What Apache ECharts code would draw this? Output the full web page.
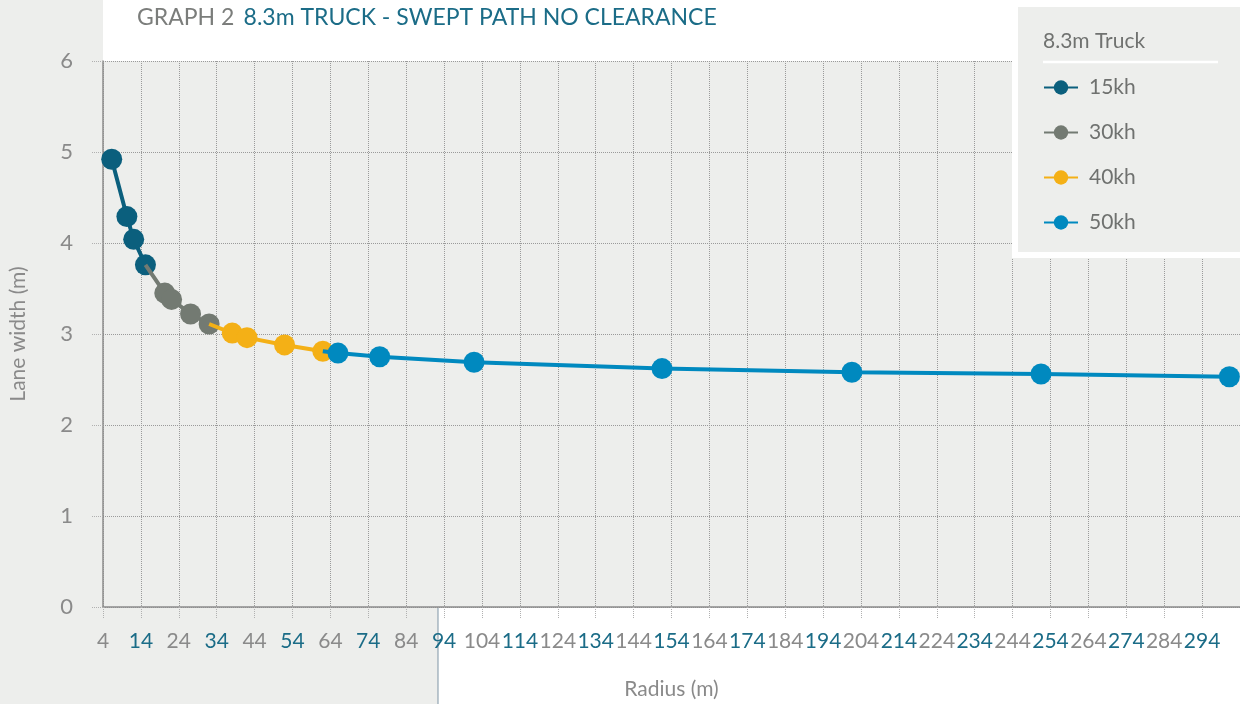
<!DOCTYPE html>
<html>
<head>
<meta charset="utf-8">
<script src="https://cdn.jsdelivr.net/npm/echarts@6/dist/echarts.min.js"></script>
<style>
  html, body { margin: 0; padding: 0; background: #edeeec; }
  #chart { width: 1240px; height: 704px; }
</style>
</head>
<body>
<div id="chart"></div>
<script>
// readings off graph 2 (radius in m, lane width in m)
var seriesNames = ['15kh', '30kh', '40kh', '50kh'];
var seriesColors = ['#0b5f7d', '#737a72', '#f4b016', '#0089bf'];

var kh15 = [[6.3, 4.92], [10.3, 4.29], [12.1, 4.04], [15.2, 3.76]];
var kh30 = [[20.3, 3.45], [22.1, 3.38], [27.1, 3.22], [32.0, 3.11]];
var kh40 = [[38.1, 3.01], [42.0, 2.96], [51.9, 2.88], [62.0, 2.81]];
var kh50 = [[66.0, 2.79], [77.0, 2.75], [101.9, 2.69], [151.5, 2.62], [201.6, 2.58], [251.5, 2.56], [301.2, 2.53]];

var xMin = 4, xMax = 304, xStep = 10;
var yMin = 0, yMax = 6, yStep = 1;

var dom = document.getElementById('chart');
var myChart = echarts.init(dom);
var font = 'Lato, "Open Sans", sans-serif';
var grey = '#8a8a8a';
var teal = '#1b6c87';

// each later series starts from the previous series' last point (no marker) so the line joins up
function withLink(prev, pts) {
    var out = [];
    if (prev) out.push({ value: prev[prev.length - 1], symbol: 'none' });
    return out.concat(pts);
}
var allData = [withLink(null, kh15), withLink(kh15, kh30), withLink(kh30, kh40), withLink(kh40, kh50)];

var series = [];
for (var i = 0; i < seriesNames.length; i++) {
    series.push({
        name: seriesNames[i],
        type: 'line',
        data: allData[i],
        color: seriesColors[i],
        symbol: 'circle',
        symbolSize: 21,
        showAllSymbol: true,
        lineStyle: { width: 4 },
        z: 3 + i
    });
}

option = {
    backgroundColor: '#edeeec',
    animation: false,
    textStyle: { fontFamily: font },
    title: {
        left: 137,
        top: 6,
        padding: 0,
        text: '{g|GRAPH 2}  {t|8.3m TRUCK - SWEPT PATH NO CLEARANCE}',
        textStyle: {
            fontWeight: 'normal',
            rich: {
                g: { fontSize: 23, color: '#7b7d7b', fontFamily: font, fontWeight: 'normal' },
                t: { fontSize: 23, color: teal, fontFamily: font, fontWeight: 'normal' }
            }
        }
    },
    graphic: [
        { type: 'rect', z: -1, shape: { x: 103, y: 0, width: 1137, height: 61 }, style: { fill: '#ffffff' } },
        { type: 'rect', z: -1, shape: { x: 438, y: 608, width: 802, height: 96 }, style: { fill: '#ffffff' } },
        { type: 'line', z: -1, shape: { x1: 438, y1: 608, x2: 438, y2: 704 }, style: { stroke: '#7f95a6', lineWidth: 1 } },
        { type: 'rect', z: 1, shape: { x: 1012, y: 0, width: 228, height: 258 }, style: { fill: '#ffffff' } },
        { type: 'rect', z: 1, shape: { x: 1018, y: 7, width: 222, height: 245 }, style: { fill: '#edeeec' } },
        { type: 'text', z: 1, left: 1043, top: 31, style: { text: '8.3m Truck', fontSize: 21, fill: '#707270', fontFamily: font } },
        { type: 'line', z: 1, shape: { x1: 1043, y1: 62, x2: 1218, y2: 62 }, style: { stroke: '#ffffff', lineWidth: 2.5 } }
    ],
    legend: {
        orient: 'vertical',
        left: 1043,
        top: 77,
        padding: 0,
        itemWidth: 34,
        itemHeight: 18,
        itemGap: 24,
        z: 5,
        data: seriesNames,
        textStyle: { fontSize: 21, color: '#6f716f', padding: [0, 0, 0, 6], fontFamily: font }
    },
    grid: {
        left: 103,
        right: 0,
        top: 61,
        bottom: 97,
        containLabel: false,
        outerBoundsMode: 'none'
    },
    xAxis: {
        type: 'value',
        min: xMin,
        max: xMax,
        interval: xStep,
        name: 'Radius (m)',
        nameLocation: 'middle',
        nameGap: 72,
        nameTextStyle: { fontSize: 21, color: '#8a8a8a', fontFamily: font },
        axisLine: { show: true, lineStyle: { color: '#8c8c8c', width: 1.5 } },
        axisTick: { show: true, length: 12, lineStyle: { color: '#b0b0b0', type: 'dotted' } },
        splitLine: { show: true, lineStyle: { color: '#9a9a9a', type: 'dotted' } },
        axisLabel: {
            margin: 24,
            showMaxLabel: false,
            formatter: function (v) {
                if (v >= xMax) return '';
                var k = Math.round((v - xMin) / xStep);
                return '{' + (k % 2 ? 't' : 'g') + '|' + v + '}';
            },
            rich: {
                g: { fontSize: 21, color: grey, fontFamily: font },
                t: { fontSize: 21, color: teal, fontFamily: font }
            }
        }
    },
    yAxis: {
        type: 'value',
        min: yMin,
        max: yMax,
        interval: yStep,
        name: 'Lane width (m)',
        nameLocation: 'middle',
        nameGap: 74,
        nameTextStyle: { fontSize: 21, color: '#8a8a8a', fontFamily: font },
        axisLine: { show: true, lineStyle: { color: '#8c8c8c', width: 1.5 } },
        axisTick: { show: true, length: 12, lineStyle: { color: '#b0b0b0', type: 'dotted' } },
        splitLine: { show: true, lineStyle: { color: '#9a9a9a', type: 'dotted' } },
        axisLabel: { margin: 30, fontSize: 22, color: grey, fontFamily: font }
    },
    series: series
};

if (option && typeof option === "object") {
    myChart.setOption(option, true);
}
</script>
</body>
</html>
